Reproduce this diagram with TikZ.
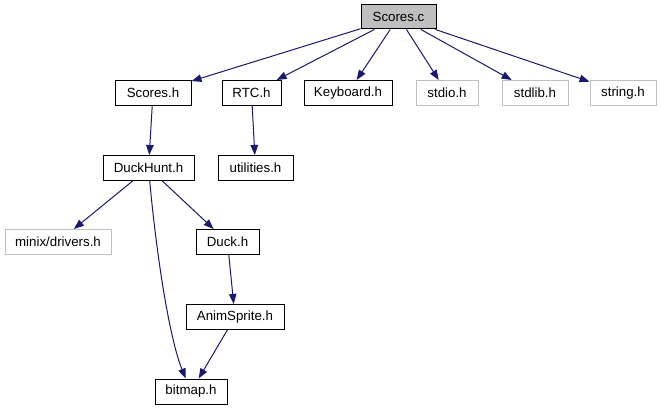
\documentclass[tikz,border=0pt]{standalone}
\usepackage{fontspec}
\setmainfont{Liberation Sans}
\usetikzlibrary{arrows.meta}
\definecolor{edgeblue}{HTML}{191970}
\definecolor{lightgrey}{HTML}{BFBFBF}
\tikzset{
  file/.style={draw=black, line width=1pt, fill=white, inner sep=0pt, minimum height=25pt, font=\fontsize{13.3}{16}\selectfont},
  sysfile/.style={file, draw=lightgrey},
  rootfile/.style={file, fill=lightgrey},
  dep/.style={draw=edgeblue, line width=1pt, -{Triangle[length=10pt,width=7.5pt]}},
}
\begin{document}
\begin{tikzpicture}[x=1pt,y=-1pt]
\useasboundingbox (0,0) rectangle (661,411);
\node[rootfile, minimum width=75pt, minimum height=24pt] (sc) at (398.5,17) {Scores.c};
\node[file, minimum width=76pt] (sh) at (153,93) {Scores.h};
\node[file, minimum width=59pt] (rtc) at (251.5,93) {RTC.h};
\node[file, minimum width=88pt] (kb) at (348,93) {Keyboard.h};
\node[sysfile, minimum width=62pt] (stdio) at (447,93) {stdio.h};
\node[sysfile, minimum width=66pt] (stdlib) at (535,93) {stdlib.h};
\node[sysfile, minimum width=66pt] (string) at (623,93) {string.h};
\node[file, minimum width=91pt] (dh) at (148.5,168) {DuckHunt.h};
\node[file, minimum width=75pt] (ut) at (255.5,168) {utilities.h};
\node[sysfile, minimum width=106pt] (minix) at (58,242) {minix/drivers.h};
\node[file, minimum width=63pt] (duck) at (227.5,242) {Duck.h};
\node[file, minimum width=98pt] (anim) at (235,317) {AnimSprite.h};
\node[file, minimum width=72pt] (bm) at (191,391.5) {bitmap.h};
\draw[dep] (sc) -- (sh);
\draw[dep] (sc) -- (rtc);
\draw[dep] (sc) -- (kb);
\draw[dep] (sc) -- (stdio);
\draw[dep] (sc) -- (stdlib);
\draw[dep] (sc) -- (string);
\draw[dep] (sh) -- (dh);
\draw[dep] (rtc) -- (ut);
\draw[dep] (dh) -- (minix);
\draw[dep] (dh) -- (duck);
\draw[dep] (dh) .. controls (157,260) and (170,340) .. (bm);
\draw[dep] (duck) -- (anim);
\draw[dep] (anim) -- (bm);
\end{tikzpicture}
\end{document}
